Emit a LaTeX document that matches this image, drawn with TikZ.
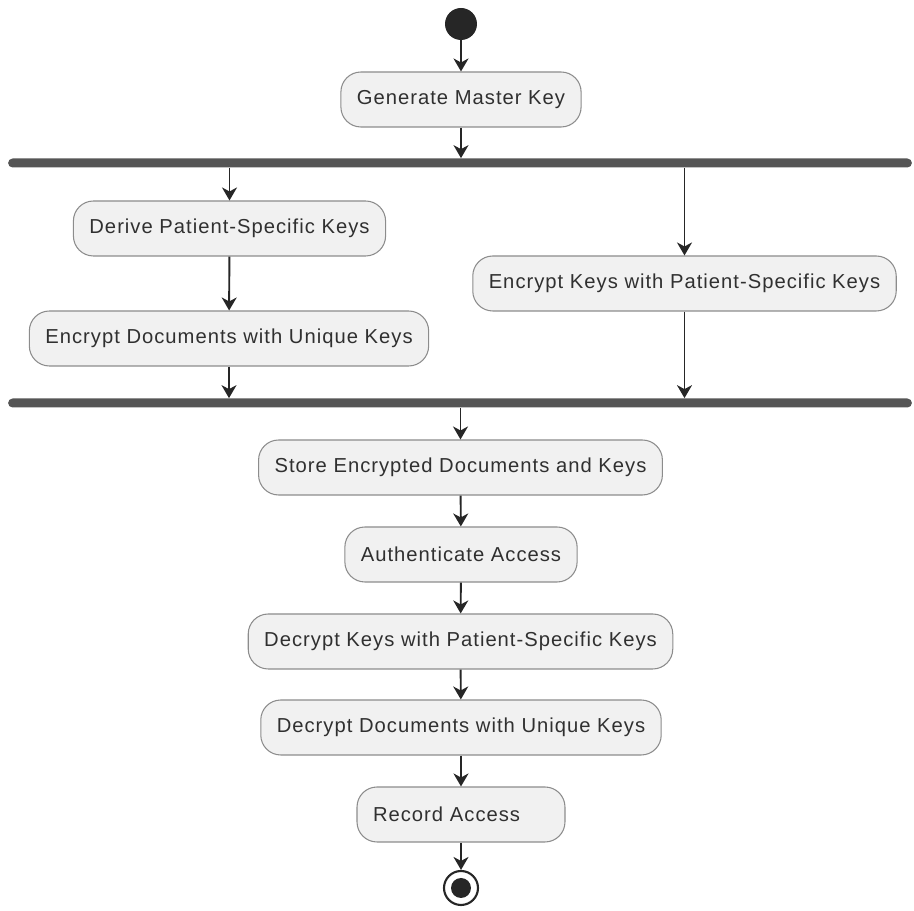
\documentclass[tikz,border=0pt]{standalone}
\usepackage{fontspec}
\setmainfont{Liberation Sans}[LetterSpace=5]
\usetikzlibrary{arrows.meta}
\definecolor{boxfill}{HTML}{F1F1F1}
\definecolor{boxline}{HTML}{8C8C8C}
\definecolor{barcol}{HTML}{555555}
\definecolor{txtcol}{HTML}{303030}
\begin{document}
\begin{tikzpicture}[x=0.02cm,y=-0.02cm]
      \tikzset{act node/.style={rectangle, rounded corners=0.4cm, draw=boxline, line width=0.6pt, fill=boxfill, minimum height=1.1cm, inner xsep=0.32cm, text=txtcol, font=\fontsize{11.5}{14}\selectfont},
        bar node/.style={rectangle, rounded corners=0.09cm, fill=barcol, minimum width=18.08cm, minimum height=0.18cm, inner sep=0pt},
        flow/.style={-{Stealth[length=0.26cm,width=0.3cm,inset=0.08cm]}, line width=1.1pt, black!85}}
      \useasboundingbox (0,0) rectangle (914,911);
      \node[circle, fill=black!85, minimum size=0.64cm, inner sep=0pt] (start) at (461,24) {};
      \node[act node] (master) at (461,99.5) {Generate Master Key};
      \node[bar node] (fork) at (460,163) {};
      \node[act node] (derive) at (229.5,228.5) {Derive Patient-Specific Keys};
      \node[act node] (encdocs) at (229,338.5) {Encrypt Documents with Unique Keys};
      \node[act node] (enckeys) at (684.5,283.5) {Encrypt Keys with Patient-Specific Keys};
      \node[bar node] (join) at (460,403) {};
      \node[act node] (store) at (460.5,467.5) {Store Encrypted Documents and Keys};
      \node[act node] (auth) at (461,554.5) {Authenticate Access};
      \node[act node] (deckeys) at (460.5,641.5) {Decrypt Keys with Patient-Specific Keys};
      \node[act node] (decdocs) at (461,727.5) {Decrypt Documents with Unique Keys};
      \node[act node, text width=3.52cm, align=left] (record) at (461,814.5) {Record Access};
      \node[circle, draw=black!85, line width=1.2pt, fill=white, minimum size=0.68cm, inner sep=0pt] (stop) at (461,888) {};
      \fill[black!85] (stop) circle (0.2cm);
      % arrows
      \draw[flow] (start) -- (master);
      \draw[flow] (master) -- (master |- fork.north);
      \draw[flow] (fork.south -| derive) -- (derive);
      \draw[flow] (derive) -- (encdocs);
      \draw[flow] (encdocs) -- (encdocs |- join.north);
      \draw[flow] (fork.south -| enckeys) -- (enckeys);
      \draw[flow] (enckeys) -- (enckeys |- join.north);
      \draw[flow] (join.south -| store) -- (store);
      \draw[flow] (store) -- (auth);
      \draw[flow] (auth) -- (deckeys);
      \draw[flow] (deckeys) -- (decdocs);
      \draw[flow] (decdocs) -- (record);
      \draw[flow] (record) -- (stop);
    \end{tikzpicture}
\end{document}
